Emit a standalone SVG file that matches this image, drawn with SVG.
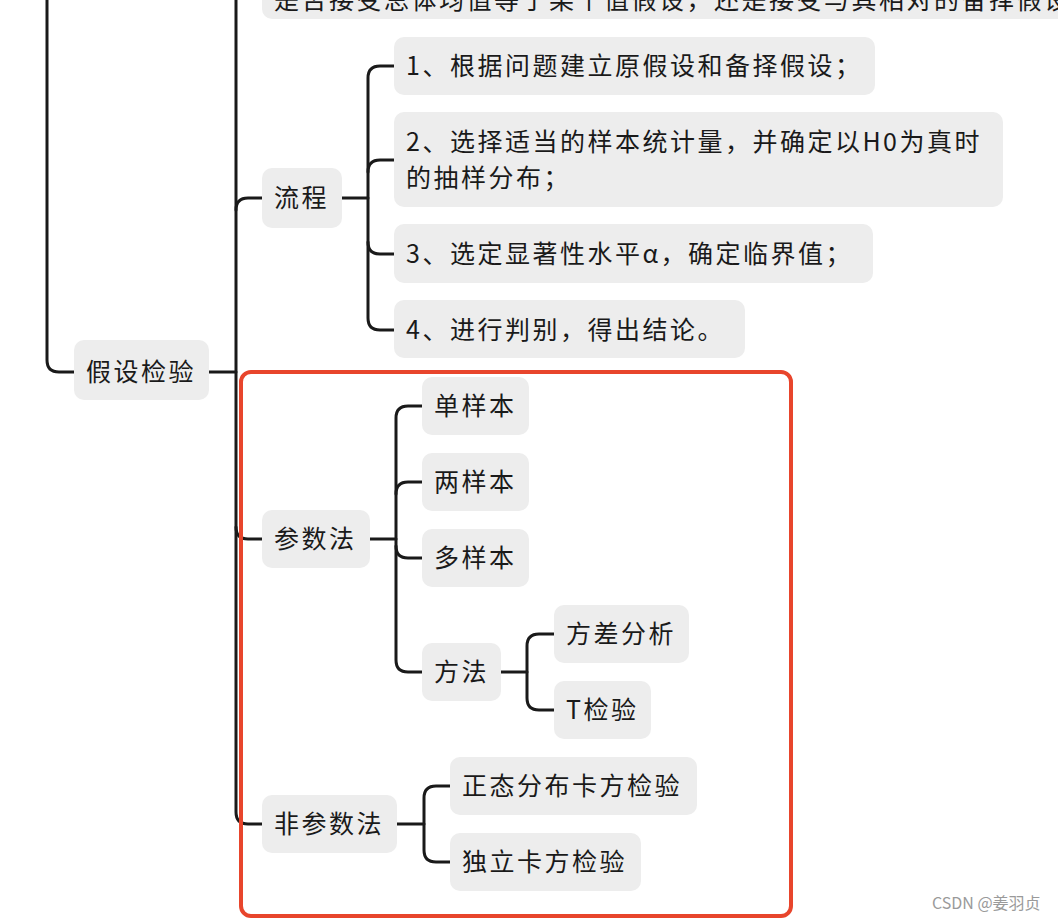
<svg xmlns="http://www.w3.org/2000/svg" width="1058" height="924" viewBox="0 0 1058 924">
<style>
.b{fill:#ededed}
.t{font-family:"Noto Sans CJK SC","Noto Sans",sans-serif;font-size:25px;letter-spacing:2.5px;fill:#1a1a1a}
.c{fill:none;stroke:#1a1a1a;stroke-width:3;stroke-linecap:round;stroke-linejoin:round}
</style>
<rect width="1058" height="924" fill="#fff"/>
<g id="connectors">
<path class="c" d="M47 0 V360 Q47 372 59 372 H74"/>
<path class="c" d="M209 372 H236"/>
<path class="c" d="M236 0 V812 Q236 824 248 824 H262"/>
<path class="c" d="M236 210 Q236 198 248 198 H262"/>
<path class="c" d="M236 527 Q236 539 248 539 H262"/>
<path class="c" d="M342 198 H368"/>
<path class="c" d="M394 66 H380 Q368 66 368 78 V318 Q368 330 380 330 H394"/>
<path class="c" d="M368 172 Q368 160 380 160 H394"/>
<path class="c" d="M368 242 Q368 254 380 254 H394"/>
<path class="c" d="M370 539 H396"/>
<path class="c" d="M422 406 H408 Q396 406 396 418 V660 Q396 672 408 672 H422"/>
<path class="c" d="M396 494 Q396 482 408 482 H422"/>
<path class="c" d="M396 546 Q396 558 408 558 H422"/>
<path class="c" d="M501 672 H527"/>
<path class="c" d="M554 634 H539 Q527 634 527 646 V698 Q527 710 539 710 H554"/>
<path class="c" d="M397 824 H424"/>
<path class="c" d="M450 786 H436 Q424 786 424 798 V850 Q424 862 436 862 H450"/>
</g>
<g id="top"><rect class="b" x="262" y="-40" width="820" height="59" rx="10"/><text class="t" x="274" y="9">是否接受总体均值等于某个值假设，还是接受与其相对的备择假设</text></g>
<g id="n-jiashe"><rect class="b" x="74" y="340" width="135" height="60" rx="10"/><text class="t" x="86" y="381">假设检验</text></g>
<g id="n-liucheng"><rect class="b" x="262" y="168" width="80" height="60" rx="10"/><text class="t" x="274" y="207">流程</text></g>
<g id="n-s1"><rect class="b" x="394" y="37" width="481" height="58" rx="10"/><text class="t" x="406" y="75">1、根据问题建立原假设和备择假设；</text></g>
<g id="n-s2"><rect class="b" x="394" y="112" width="609" height="95" rx="10"/><text class="t" x="406" y="151">2、选择适当的样本统计量，并确定以H0为真时</text><text class="t" x="406" y="187">的抽样分布；</text></g>
<g id="n-s3"><rect class="b" x="394" y="224" width="479" height="59" rx="10"/><text class="t" x="406" y="263">3、选定显著性水平α，确定临界值；</text></g>
<g id="n-s4"><rect class="b" x="394" y="300" width="351" height="58" rx="10"/><text class="t" x="406" y="339">4、进行判别，得出结论。</text></g>
<rect x="241" y="372" width="550" height="544" rx="10" fill="none" stroke="#e8452c" stroke-width="4"/>
<g id="n-canshu"><rect class="b" x="262" y="510" width="108" height="58" rx="10"/><text class="t" x="274" y="548">参数法</text></g>
<g id="n-dan"><rect class="b" x="422" y="377" width="107" height="58" rx="10"/><text class="t" x="434" y="415">单样本</text></g>
<g id="n-liang"><rect class="b" x="422" y="453" width="107" height="58" rx="10"/><text class="t" x="434" y="491">两样本</text></g>
<g id="n-duo"><rect class="b" x="422" y="529" width="107" height="58" rx="10"/><text class="t" x="434" y="567">多样本</text></g>
<g id="n-fangfa"><rect class="b" x="422" y="643" width="79" height="58" rx="10"/><text class="t" x="434" y="681">方法</text></g>
<g id="n-fcfx"><rect class="b" x="554" y="605" width="135" height="58" rx="10"/><text class="t" x="566" y="643">方差分析</text></g>
<g id="n-t"><rect class="b" x="554" y="681" width="97" height="58" rx="10"/><text class="t" x="566" y="719">T检验</text></g>
<g id="n-fei"><rect class="b" x="262" y="795" width="135" height="58" rx="10"/><text class="t" x="274" y="833">非参数法</text></g>
<g id="n-zt"><rect class="b" x="450" y="757" width="247" height="58" rx="10"/><text class="t" x="462" y="795">正态分布卡方检验</text></g>
<g id="n-dl"><rect class="b" x="450" y="833" width="191" height="58" rx="10"/><text class="t" x="462" y="871">独立卡方检验</text></g>
<text x="932" y="909" font-family="Noto Sans CJK SC,sans-serif" font-size="16" fill="#9a9a9a">CSDN @姜羽贞</text>
</svg>
